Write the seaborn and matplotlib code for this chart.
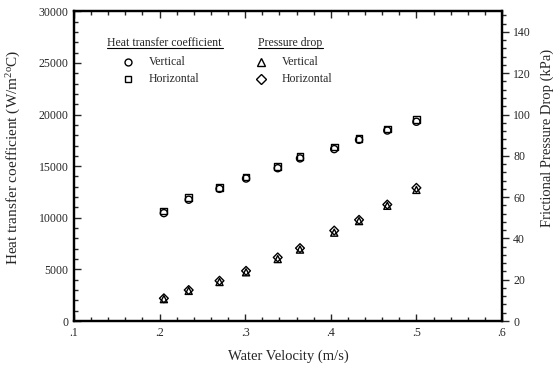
import numpy as np
import matplotlib
matplotlib.use('Agg')
import matplotlib.pyplot as plt
import seaborn as sns
from matplotlib.ticker import MultipleLocator, FuncFormatter
from matplotlib.lines import Line2D

# Data
velocity = [0.205, 0.234, 0.270, 0.301, 0.338, 0.364, 0.404, 0.433, 0.466, 0.500]
htc_vertical = [10450, 11750, 12800, 13800, 14800, 15750, 16650, 17550, 18450, 19300]
htc_horizontal = [10650, 11950, 12950, 13950, 14950, 15950, 16850, 17700, 18600, 19500]
dp_vertical = [10.6, 14.6, 18.9, 23.6, 30.0, 34.6, 42.8, 48.4, 55.8, 63.5]
dp_horizontal = [11.0, 15.0, 19.5, 24.3, 30.8, 35.3, 43.8, 49.0, 56.4, 64.5]

sns.set_style('ticks')
plt.rcParams['font.family'] = ['Liberation Serif', 'DejaVu Serif']
plt.rcParams['mathtext.fontset'] = 'custom'
plt.rcParams['mathtext.rm'] = 'Liberation Serif'
plt.rcParams['mathtext.it'] = 'Liberation Serif:italic'

fig = plt.figure(figsize=(5.53, 3.70), dpi=100)
ax = fig.add_axes([0.1338, 0.1324, 0.774, 0.8371])
ax2 = ax.twinx()

mk = dict(facecolors='none', edgecolors='black', linewidth=1.0, legend=False)
sns.scatterplot(x=velocity, y=htc_horizontal, marker='s', s=24, ax=ax, **mk)
sns.scatterplot(x=velocity, y=htc_vertical, marker='o', s=26, ax=ax, **mk)
sns.scatterplot(x=velocity, y=dp_vertical, marker='^', s=26, ax=ax2, **mk)
sns.scatterplot(x=velocity, y=dp_horizontal, marker='D', s=20, ax=ax2, **mk)

ax.set_xlim(0.1, 0.6)
ax.set_ylim(0, 30000)
ax2.set_ylim(0, 150)

ax.xaxis.set_major_locator(MultipleLocator(0.1))
ax.xaxis.set_minor_locator(MultipleLocator(0.02))
ax.xaxis.set_major_formatter(FuncFormatter(lambda v, p: f"{v:.1f}".lstrip('0')))
ax.yaxis.set_major_locator(MultipleLocator(5000))
ax.yaxis.set_minor_locator(MultipleLocator(1000))
ax2.yaxis.set_major_locator(MultipleLocator(20))
ax2.yaxis.set_minor_locator(MultipleLocator(4))

ax.tick_params(which='both', direction='in', top=True, right=False, labelsize=8.5,
               width=1.0, pad=4)
ax.tick_params(which='major', length=5)
ax.tick_params(which='minor', length=3)
ax2.tick_params(which='both', direction='out', labelsize=8.5, width=1.0, pad=3)
ax2.tick_params(which='major', length=5)
ax2.tick_params(which='minor', length=3)

for a in (ax, ax2):
    for sp in a.spines.values():
        sp.set_visible(True)
        sp.set_linewidth(1.6)
        sp.set_color('black')

ax.set_xlabel('Water Velocity (m/s)', fontsize=10.5, labelpad=8)
ax.set_ylabel(r'Heat transfer coefficient (W/m$^{\mathrm{2o}}$C)', fontsize=11)
ax.yaxis.set_label_coords(-0.118, 0.53)
ax2.set_ylabel('Frictional Pressure Drop (kPa)', fontsize=10.5)
ax2.yaxis.set_label_coords(1.089, 0.59)

# Legend drawn by hand, as in the reference
def px(x, y):
    return x / 553, 1 - y / 370

fs = 8.5
for (x0, x1, y, txt) in [(107, 223, 43, 'Heat transfer coefficient'),
                         (258, 323, 43, 'Pressure drop')]:
    fig.text(*px(x0, y), txt, fontsize=fs, va='center', ha='left')
    fig.add_artist(Line2D([x0 / 553, x1 / 553], [1 - (y + 5) / 370] * 2,
                          color='black', linewidth=0.8))

entries = [(128, 62, 'o', 'Vertical', 5), (128, 79, 's', 'Horizontal', 5),
           (261, 62, '^', 'Vertical', 5.5), (261, 79, 'D', 'Horizontal', 5)]
for (x, y, m, txt, ms) in entries:
    fig.add_artist(Line2D([x / 553], [1 - y / 370], marker=m, markersize=ms,
                          markerfacecolor='none', markeredgecolor='black',
                          markeredgewidth=1.0, linestyle='none'))
    fig.text(*px(x + 21, y), txt, fontsize=fs, va='center', ha='left')

fig.savefig('out.png', dpi=100)
